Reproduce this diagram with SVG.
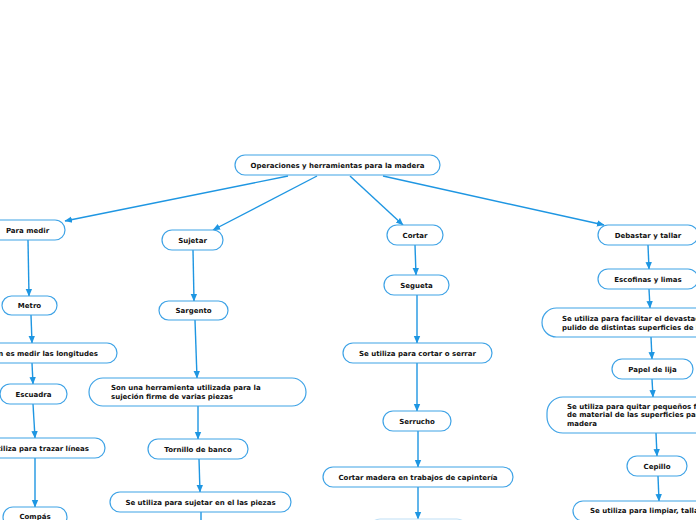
<svg xmlns="http://www.w3.org/2000/svg" width="696" height="520" viewBox="0 0 696 520">
<style>
.n{fill:#fff;stroke:#3fa3e6;stroke-width:1.2}
.t{font-family:"DejaVu Sans",Verdana,sans-serif;font-weight:bold;font-size:7px;fill:#111}
.c{text-anchor:middle}
.e{stroke:#1e96e2;stroke-width:1.4;fill:none;marker-end:url(#a)}
</style>
<defs>
<marker id="a" markerUnits="userSpaceOnUse" markerWidth="8" markerHeight="8" viewBox="0 0 8 8" refX="7" refY="4" orient="auto">
<path d="M0,0.8 L7.5,4 L0,7.2 z" fill="#1e96e2"/>
</marker>
</defs>
<rect width="696" height="520" fill="#fff"/>
<g id="connectors">
<line class="e" x1="288" y1="176" x2="65" y2="221"/>
<line class="e" x1="317" y1="176" x2="213" y2="230"/>
<line class="e" x1="350" y1="176" x2="403" y2="225"/>
<line class="e" x1="383" y1="176" x2="604" y2="225"/>
<line class="e" x1="28" y1="240" x2="29" y2="296"/>
<line class="e" x1="31" y1="315" x2="32" y2="343"/>
<line class="e" x1="32" y1="363" x2="33" y2="384"/>
<line class="e" x1="33" y1="404" x2="35" y2="438"/>
<line class="e" x1="35" y1="458" x2="35" y2="507"/>
<line class="e" x1="193" y1="250" x2="194" y2="301"/>
<line class="e" x1="195" y1="320" x2="197" y2="378"/>
<line class="e" x1="198" y1="406" x2="198" y2="439"/>
<line class="e" x1="199" y1="459" x2="200" y2="492"/>
<line x1="201" y1="512" x2="201" y2="520" stroke="#1e96e2" stroke-width="1.4"/>
<line class="e" x1="415" y1="245" x2="416" y2="275"/>
<line class="e" x1="417" y1="295" x2="417" y2="343"/>
<line class="e" x1="417" y1="363" x2="417" y2="411"/>
<line class="e" x1="418" y1="431" x2="418" y2="467"/>
<line class="e" x1="418" y1="487" x2="418" y2="519"/>
<line class="e" x1="648" y1="245" x2="649" y2="269"/>
<line class="e" x1="649" y1="289" x2="650" y2="308"/>
<line class="e" x1="651" y1="337" x2="652" y2="359"/>
<line class="e" x1="652" y1="379" x2="653" y2="397"/>
<line class="e" x1="656" y1="433" x2="657" y2="456"/>
<line class="e" x1="658" y1="476" x2="659" y2="501"/>
</g>
<g id="root"><rect class="n" x="235" y="155" width="205" height="20" rx="10"/><text class="t c" x="337.5" y="167.5">Operaciones y herramientas para la madera</text></g>
<g id="para-medir"><rect class="n" x="-10" y="220" width="75" height="20" rx="10"/><text class="t c" x="27.5" y="232.5">Para medir</text></g>
<g id="metro"><rect class="n" x="2" y="296" width="55" height="19" rx="9.5"/><text class="t c" x="29.5" y="308">Metro</text></g>
<g id="medir-longitudes"><rect class="n" x="-70" y="343" width="187" height="20" rx="10"/><text class="t" x="98" y="355.5" text-anchor="end">Su función es medir las longitudes</text></g>
<g id="escuadra"><rect class="n" x="0" y="384" width="67" height="20" rx="10"/><text class="t c" x="33.5" y="396.5">Escuadra</text></g>
<g id="trazar-lineas"><rect class="n" x="-40" y="438" width="145" height="20" rx="10"/><text class="t" x="89" y="450.5" text-anchor="end">Se utiliza para trazar líneas</text></g>
<g id="compas"><rect class="n" x="3" y="507" width="64" height="20" rx="10"/><text class="t c" x="35" y="519">Compás</text></g>
<g id="sujetar"><rect class="n" x="162" y="230" width="61" height="20" rx="10"/><text class="t c" x="192.5" y="242.5">Sujetar</text></g>
<g id="sargento"><rect class="n" x="159" y="301" width="69" height="19" rx="9.5"/><text class="t c" x="193.5" y="313">Sargento</text></g>
<g id="sargento-desc"><rect class="n" x="89" y="378" width="217" height="28" rx="14"/><text class="t" x="111" y="390">Son una herramienta utilizada para la</text><text class="t" x="111" y="398.5">sujeción firme de varias piezas</text></g>
<g id="tornillo"><rect class="n" x="148" y="439" width="100" height="20" rx="10"/><text class="t c" x="198" y="451.5">Tornillo de banco</text></g>
<g id="tornillo-desc"><rect class="n" x="110" y="492" width="181" height="20" rx="10"/><text class="t c" x="200.5" y="504.5">Se utiliza para sujetar en el las piezas</text></g>
<g id="cortar"><rect class="n" x="387" y="225" width="56" height="20" rx="10"/><text class="t c" x="415" y="237.5">Cortar</text></g>
<g id="segueta"><rect class="n" x="384" y="275" width="65" height="20" rx="10"/><text class="t c" x="416.5" y="287.5">Segueta</text></g>
<g id="segueta-desc"><rect class="n" x="343" y="343" width="149" height="20" rx="10"/><text class="t c" x="417.5" y="355.5">Se utiliza para cortar o serrar</text></g>
<g id="serrucho"><rect class="n" x="383" y="411" width="68" height="20" rx="10"/><text class="t c" x="417" y="423.5">Serrucho</text></g>
<g id="serrucho-desc"><rect class="n" x="323" y="467" width="190" height="20" rx="10"/><text class="t c" x="418" y="479.5">Cortar madera en trabajos de capintería</text></g>
<g id="cortar-next"><rect x="370" y="519" width="97" height="20" rx="10" fill="#fff" stroke="#bfe0f6" stroke-width="1.2"/></g>
<g id="debastar"><rect class="n" x="598" y="225" width="100" height="20" rx="10"/><text class="t c" x="648" y="237.5">Debastar y tallar</text></g>
<g id="escofinas"><rect class="n" x="598" y="269" width="100" height="20" rx="10"/><text class="t c" x="648" y="281.5">Escofinas y limas</text></g>
<g id="escofinas-desc"><rect class="n" x="542" y="308" width="220" height="29" rx="14.5"/><text class="t" x="562" y="320.5">Se utiliza para facilitar el devastado y</text><text class="t" x="562" y="329.5">pulido de distintas superficies de la madera</text></g>
<g id="lija"><rect class="n" x="612" y="359" width="81" height="20" rx="10"/><text class="t c" x="652.5" y="371.5">Papel de lija</text></g>
<g id="lija-desc"><rect class="n" x="547" y="397" width="220" height="36" rx="16"/><text class="t" x="567" y="408.5">Se utiliza para quitar pequeños fragmentos</text><text class="t" x="567" y="417">de material de las superficies para la</text><text class="t" x="567" y="425.5">madera</text></g>
<g id="cepillo"><rect class="n" x="627" y="456" width="60" height="20" rx="10"/><text class="t c" x="657" y="468.5">Cepillo</text></g>
<g id="cepillo-desc"><rect class="n" x="573" y="501" width="200" height="20" rx="10"/><text class="t" x="590" y="513">Se utiliza para limpiar, tallar y pulir la madera</text></g>
</svg>
